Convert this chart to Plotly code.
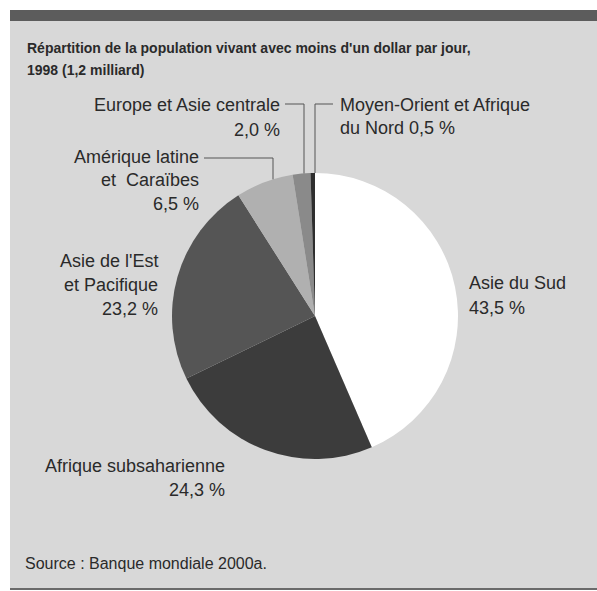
import plotly.graph_objects as go
import math

W, H = 597, 591

# ---- data ----
regions = ["Asie du Sud", "Afrique subsaharienne", "Asie de l'Est et Pacifique",
           "Amérique latine et Caraïbes", "Europe et Asie centrale",
           "Moyen-Orient et Afrique du Nord"]
shares = [43.5, 24.3, 23.2, 6.5, 2.0, 0.5]
slice_colors = ["#ffffff", "#3c3c3c", "#555555", "#b0b0b0", "#8a8a8a", "#2e2e2e"]

title_lines = ["Répartition de la population vivant avec moins d'un dollar par jour,",
               "1998 (1,2 milliard)"]
source_text = "Source : Banque mondiale 2000a."


def fmt(v):
    return f"{v:.1f}".replace(".", ",") + " %"


def px(x):
    return x / W


def py(y):
    return 1 - y / H


CX, CY, R = 315, 316, 143

fig = go.Figure(go.Pie(
    labels=regions, values=shares, sort=False, direction="clockwise", rotation=0,
    marker=dict(colors=slice_colors, line=dict(width=0)),
    textinfo="none", hoverinfo="skip", showlegend=False,
    domain=dict(x=[px(CX - R), px(CX + R)], y=[py(CY + R), py(CY - R)]),
))

FONT = "Liberation Sans, Arial, sans-serif"
shapes = [
    dict(type="rect", xref="paper", yref="paper", x0=px(10), x1=px(597), y0=py(589), y1=py(10),
         fillcolor="#d8d8d8", line=dict(width=0), layer="below"),
    dict(type="rect", xref="paper", yref="paper", x0=px(10), x1=px(597), y0=py(21), y1=py(10),
         fillcolor="#5c5c5c", line=dict(width=0), layer="below"),
    dict(type="rect", xref="paper", yref="paper", x0=px(10), x1=px(597), y0=py(590), y1=py(588),
         fillcolor="#6a6a6a", line=dict(width=0), layer="below"),
]


def circ_y(x):
    return CY - math.sqrt(R * R - (x - CX) ** 2)


def leader(points):
    d = "M " + " L ".join(f"{px(x)},{py(y)}" for x, y in points)
    return dict(type="path", xref="paper", yref="paper", path=d,
                line=dict(color="#555555", width=1), layer="above")


shapes.append(leader([(285, 104), (304, 104), (304, circ_y(304))]))
shapes.append(leader([(333, 104), (315, 104), (315, circ_y(315))]))
shapes.append(leader([(204, 158), (273, 158), (273, circ_y(273))]))

annotations = []
LS = 18


def text(x, y, s, anchor, size=LS, bold=False):
    annotations.append(dict(
        xref="paper", yref="paper", x=px(x), y=py(y), text=f"<b>{s}</b>" if bold else s,
        showarrow=False, xanchor=anchor, yanchor="middle",
        font=dict(family=FONT, size=size, color="#2a2a2a")))


text(25, 48, title_lines[0], "left", size=14, bold=True)
text(25, 70, title_lines[1], "left", size=14, bold=True)

text(282, 105, "Europe et Asie centrale", "right")
text(282, 130, fmt(shares[4]), "right")

text(338, 105, "Moyen-Orient et Afrique", "left")
text(338, 128, "du Nord " + fmt(shares[5]), "left")

text(201, 157, "Amérique latine", "right")
text(201, 180, "et  Caraïbes", "right")
text(201, 204, fmt(shares[3]), "right")

text(160, 261, "Asie de l'Est", "right")
text(160, 285, "et Pacifique", "right")
text(160, 309, fmt(shares[2]), "right")

text(467, 283, "Asie du Sud", "left")
text(467, 308, fmt(shares[0]), "left")

text(227, 466, "Afrique subsaharienne", "right")
text(227, 490, fmt(shares[1]), "right")

text(23, 563, source_text, "left", size=16)

fig.update_layout(
    width=W, height=H, margin=dict(l=0, r=0, t=0, b=0),
    paper_bgcolor="#ffffff", plot_bgcolor="#ffffff",
    shapes=shapes, annotations=annotations,
)

fig.write_html("out.html")
